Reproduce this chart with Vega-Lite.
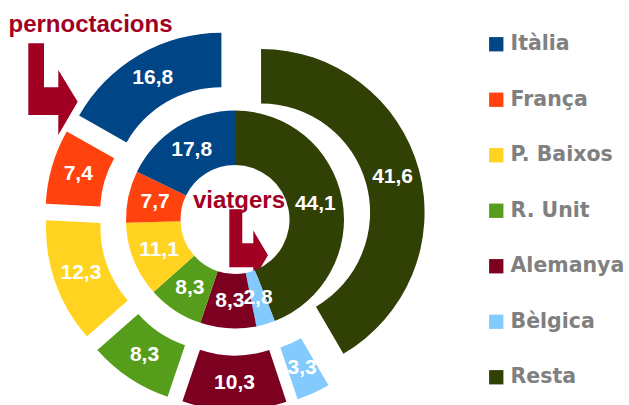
{
  "$schema": "https://vega.github.io/schema/vega-lite/v6.json",
  "width": 470,
  "height": 371,
  "autosize": {"type": "none"},
  "padding": {"left": 0, "top": 34, "right": 159, "bottom": 0},
  "background": "white",
  "config": {
    "view": {"stroke": null},
    "locale": {"number": {"decimal": ",", "thousands": ".", "grouping": [3], "currency": ["", " €"]}}
  },
  "datasets": {
    "viatgers": [
      {"country": "Resta", "value": 44.1, "order": 1},
      {"country": "Bèlgica", "value": 2.8, "order": 2},
      {"country": "Alemanya", "value": 8.3, "order": 3},
      {"country": "R. Unit", "value": 8.3, "order": 4},
      {"country": "P. Baixos", "value": 11.1, "order": 5},
      {"country": "França", "value": 7.7, "order": 6},
      {"country": "Itàlia", "value": 17.8, "order": 7}
    ],
    "pernoctacions": [
      {"country": "Resta", "value": 41.6, "order": 1},
      {"country": "Bèlgica", "value": 3.3, "order": 2},
      {"country": "Alemanya", "value": 10.3, "order": 3},
      {"country": "R. Unit", "value": 8.3, "order": 4},
      {"country": "P. Baixos", "value": 12.3, "order": 5},
      {"country": "França", "value": 7.4, "order": 6},
      {"country": "Itàlia", "value": 16.8, "order": 7}
    ]
  },
  "layer": [
    {
      "data": {"values": [{"arrow": "pernoctacions"}]},
      "mark": {"type": "point", "shape": "M-206.7,-176.2L-191,-176.2L-191,-132.2L-176.7,-132.2L-176.7,-149.5L-157.3,-117.8L-176.7,-84.5L-176.7,-104.5L-206.7,-104.5Z", "size": 4, "filled": true, "color": "#a10023", "opacity": 1, "strokeWidth": 0},
      "encoding": {}
    },
    {
      "data": {"values": [{"arrow": "viatgers"}]},
      "mark": {"type": "point", "shape": "M-5.7,-10.2L7.3,-10.2L7.3,23.8L18.3,23.8L18.3,11L33,35.8L18.3,60.5L18.3,47.8L-5.7,47.8Z", "size": 4, "filled": true, "color": "#a10023", "opacity": 1, "strokeWidth": 0},
      "encoding": {}
    },
    {
      "data": {"name": "viatgers"},
      "mark": {"type": "arc", "innerRadius": 54.5, "outerRadius": 109},
      "encoding": {
        "theta": {"field": "value", "type": "quantitative", "stack": true},
        "order": {"field": "order", "type": "quantitative"},
        "color": {
          "field": "country", "type": "nominal",
          "scale": {"domain": ["Itàlia", "França", "P. Baixos", "R. Unit", "Alemanya", "Bèlgica", "Resta"], "range": ["#004586", "#ff420e", "#ffd320", "#579d1c", "#7e0021", "#83caff", "#314004"]},
          "legend": {"title": null, "orient": "right", "offset": 15.5, "padding": 0, "symbolType": "square", "symbolSize": 205, "symbolStrokeWidth": 0, "symbolOpacity": 1, "labelFont": "DejaVu Sans", "labelFontSize": 20.5, "labelFontWeight": "bold", "labelColor": "#808080", "labelOffset": 4, "rowPadding": 34.5, "labelLimit": 200}
        }
      }
    },
    {
      "data": {"name": "pernoctacions"},
      "transform": [{"stack": "value", "groupby": [], "sort": [{"field": "order", "order": "ascending"}], "as": ["v0", "v1"]}],
      "encoding": {
        "theta": {"field": "v0", "type": "quantitative", "stack": null, "scale": {"domain": [0, 100]}},
        "theta2": {"field": "v1"},
        "color": {
          "field": "country", "type": "nominal",
          "scale": {"domain": ["Itàlia", "França", "P. Baixos", "R. Unit", "Alemanya", "Bèlgica", "Resta"], "range": ["#004586", "#ff420e", "#ffd320", "#579d1c", "#7e0021", "#83caff", "#314004"]},
          "legend": {"title": null, "orient": "right", "offset": 15.5, "padding": 0, "symbolType": "square", "symbolSize": 205, "symbolStrokeWidth": 0, "symbolOpacity": 1, "labelFont": "DejaVu Sans", "labelFontSize": 20.5, "labelFontWeight": "bold", "labelColor": "#808080", "labelOffset": 4, "rowPadding": 34.5, "labelLimit": 200}
        }
      },
      "layer": [
        {"transform": [{"filter": "datum.country === 'Resta'"}], "mark": {"type": "arc", "innerRadius": 109, "outerRadius": 163.5, "xOffset": 26.07, "yOffset": -7.04}},
        {"transform": [{"filter": "datum.country === 'Bèlgica'"}], "mark": {"type": "arc", "innerRadius": 109, "outerRadius": 163.5, "xOffset": 11.11, "yOffset": 24.61}},
        {"transform": [{"filter": "datum.country === 'Alemanya'"}], "mark": {"type": "arc", "innerRadius": 109, "outerRadius": 163.5, "xOffset": -0.08, "yOffset": 27}},
        {"transform": [{"filter": "datum.country === 'R. Unit'"}], "mark": {"type": "arc", "innerRadius": 109, "outerRadius": 163.5, "xOffset": -14.97, "yOffset": 22.47}},
        {"transform": [{"filter": "datum.country === 'P. Baixos'"}], "mark": {"type": "arc", "innerRadius": 109, "outerRadius": 163.5, "xOffset": -25.49, "yOffset": 8.91}},
        {"transform": [{"filter": "datum.country === 'França'"}], "mark": {"type": "arc", "innerRadius": 109, "outerRadius": 163.5, "xOffset": -25.93, "yOffset": -7.53}},
        {"transform": [{"filter": "datum.country === 'Itàlia'"}], "mark": {"type": "arc", "innerRadius": 109, "outerRadius": 163.5, "xOffset": -13.6, "yOffset": -23.33}}
      ]
    },
    {
      "data": {"name": "viatgers"},
      "mark": {"type": "text", "radius": 81.75, "font": "Liberation Sans", "fontSize": 21, "fontWeight": "bold", "color": "white"},
      "encoding": {
        "theta": {"field": "value", "type": "quantitative", "stack": true},
        "order": {"field": "order", "type": "quantitative"},
        "text": {"field": "value", "type": "quantitative", "format": ".1f"}
      }
    },
    {
      "data": {"name": "pernoctacions"},
      "mark": {"type": "text", "radius": 163.25, "font": "Liberation Sans", "fontSize": 21, "fontWeight": "bold", "color": "white"},
      "encoding": {
        "theta": {"field": "value", "type": "quantitative", "stack": true},
        "order": {"field": "order", "type": "quantitative"},
        "text": {"field": "value", "type": "quantitative", "format": ".1f"}
      }
    },
    {
      "data": {"values": [{"label": "pernoctacions"}]},
      "mark": {"type": "text", "align": "left", "baseline": "alphabetic", "dx": -226.5, "dy": -187.8, "font": "Liberation Sans", "fontSize": 24, "fontWeight": "bold", "color": "#a10023"},
      "encoding": {"text": {"field": "label", "type": "nominal"}}
    },
    {
      "data": {"values": [{"label": "viatgers"}]},
      "mark": {"type": "text", "align": "left", "baseline": "alphabetic", "dx": -42, "dy": -11.8, "font": "Liberation Sans", "fontSize": 24, "fontWeight": "bold", "color": "#a10023"},
      "encoding": {"text": {"field": "label", "type": "nominal"}}
    }
  ],
  "resolve": {"scale": {"theta": "independent"}}
}
